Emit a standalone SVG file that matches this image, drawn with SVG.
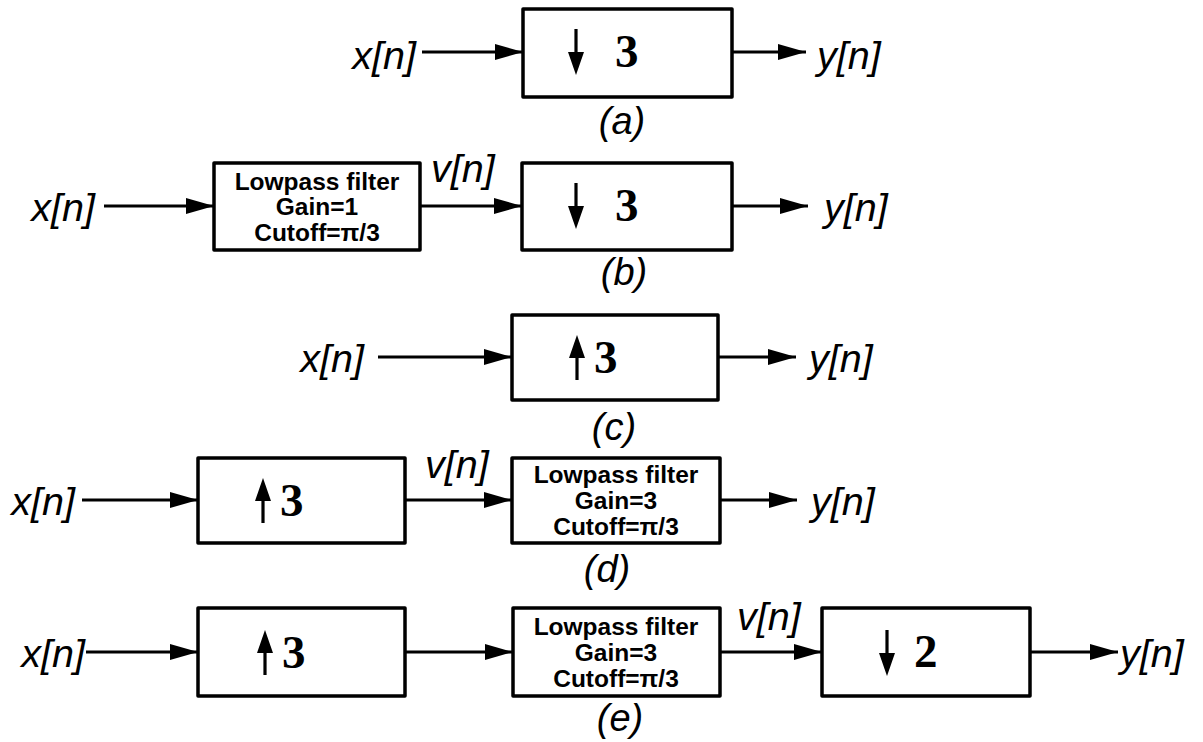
<svg xmlns="http://www.w3.org/2000/svg" width="1203" height="742" viewBox="0 0 1203 742">
<style>
.box{fill:#fff;stroke:#000;stroke-width:3.5;stroke-linejoin:round}
.sig{font-family:"Liberation Sans",Arial,sans-serif;font-style:italic;font-size:39.5px;fill:#000}
.end{text-anchor:end}
.cap{font-family:"Liberation Sans",Arial,sans-serif;font-style:italic;font-size:38px;fill:#000;text-anchor:middle}
.lpf{font-family:"Liberation Sans",Arial,sans-serif;font-weight:bold;font-size:24.5px;fill:#000;text-anchor:middle}
.num{font-family:"Liberation Serif","Times New Roman",serif;font-weight:bold;font-size:47px;fill:#000}
.wire{stroke:#000;stroke-width:3;fill:none}
.ia{stroke:#000;stroke-width:3.2;fill:none}
</style>
<defs>
<marker id="ah" markerUnits="userSpaceOnUse" markerWidth="30" markerHeight="20" refX="28" refY="10" orient="auto">
<path d="M0,2 L28,10 L0,18 Z" fill="#000"/>
</marker>
</defs>
<g id="connectors">
<line class="wire" x1="422" y1="52" x2="523" y2="52" marker-end="url(#ah)"/>
<line class="wire" x1="732" y1="52" x2="806" y2="52" marker-end="url(#ah)"/>
<line class="wire" x1="104" y1="206" x2="214" y2="206" marker-end="url(#ah)"/>
<line class="wire" x1="420" y1="206" x2="522" y2="206" marker-end="url(#ah)"/>
<line class="wire" x1="732" y1="206" x2="808" y2="206" marker-end="url(#ah)"/>
<line class="wire" x1="378" y1="357" x2="512" y2="357" marker-end="url(#ah)"/>
<line class="wire" x1="718" y1="357" x2="796" y2="357" marker-end="url(#ah)"/>
<line class="wire" x1="82" y1="500" x2="198" y2="500" marker-end="url(#ah)"/>
<line class="wire" x1="405" y1="500" x2="512" y2="500" marker-end="url(#ah)"/>
<line class="wire" x1="720" y1="500" x2="797" y2="500" marker-end="url(#ah)"/>
<line class="wire" x1="86" y1="652" x2="198" y2="652" marker-end="url(#ah)"/>
<line class="wire" x1="405" y1="652" x2="513" y2="652" marker-end="url(#ah)"/>
<line class="wire" x1="720" y1="652" x2="822" y2="652" marker-end="url(#ah)"/>
<line class="wire" x1="1030" y1="652" x2="1118" y2="652" marker-end="url(#ah)"/>
</g>
<g id="a-labels">
<text class="sig end" x="416" y="69">x[n]</text>
<text class="sig" x="817" y="69">y[n]</text>
<text class="cap" x="622" y="134">(a)</text>
</g>
<g id="a-down3">
<rect class="box" x="523" y="9" width="209" height="88"/>
<line class="ia" x1="576" y1="29" x2="576" y2="56"/>
<path d="M568,52 L584,52 L576,75 Z" fill="#000"/>
<text class="num" x="615" y="67">3</text>
</g>
<g id="b-labels">
<text class="sig end" x="95" y="221">x[n]</text>
<text class="sig" x="431" y="182">v[n]</text>
<text class="sig" x="824" y="221">y[n]</text>
<text class="cap" x="624" y="285">(b)</text>
</g>
<g id="b-lpf">
<rect class="box" x="214" y="163" width="206" height="87"/>
<text class="lpf" x="317" y="190">Lowpass filter</text>
<text class="lpf" x="317" y="215">Gain=1</text>
<text class="lpf" x="317" y="241">Cutoff=π/3</text>
</g>
<g id="b-down3">
<rect class="box" x="522" y="163" width="210" height="87"/>
<line class="ia" x1="576" y1="183" x2="576" y2="210"/>
<path d="M568,206 L584,206 L576,229 Z" fill="#000"/>
<text class="num" x="615" y="221">3</text>
</g>
<g id="c-labels">
<text class="sig end" x="364" y="372">x[n]</text>
<text class="sig" x="809" y="372">y[n]</text>
<text class="cap" x="614" y="440">(c)</text>
</g>
<g id="c-up3">
<rect class="box" x="512" y="315" width="206" height="85"/>
<line class="ia" x1="577" y1="354" x2="577" y2="380"/>
<path d="M569,358 L585,358 L577,335 Z" fill="#000"/>
<text class="num" x="594" y="373">3</text>
</g>
<g id="d-labels">
<text class="sig end" x="75" y="515">x[n]</text>
<text class="sig" x="425" y="478">v[n]</text>
<text class="sig" x="811" y="515">y[n]</text>
<text class="cap" x="607" y="582">(d)</text>
</g>
<g id="d-up3">
<rect class="box" x="198" y="458" width="207" height="85"/>
<line class="ia" x1="263" y1="497" x2="263" y2="523"/>
<path d="M255,501 L271,501 L263,478 Z" fill="#000"/>
<text class="num" x="280" y="516">3</text>
</g>
<g id="d-lpf">
<rect class="box" x="512" y="458" width="208" height="85"/>
<text class="lpf" x="616" y="483">Lowpass filter</text>
<text class="lpf" x="616" y="509">Gain=3</text>
<text class="lpf" x="616" y="535">Cutoff=π/3</text>
</g>
<g id="e-labels">
<text class="sig end" x="85" y="667">x[n]</text>
<text class="sig" x="737" y="630">v[n]</text>
<text class="sig" x="1120" y="667">y[n]</text>
<text class="cap" x="620" y="731">(e)</text>
</g>
<g id="e-up3">
<rect class="box" x="198" y="608" width="207" height="88"/>
<line class="ia" x1="265" y1="649" x2="265" y2="675"/>
<path d="M257,653 L273,653 L265,630 Z" fill="#000"/>
<text class="num" x="282" y="668">3</text>
</g>
<g id="e-lpf">
<rect class="box" x="513" y="608" width="207" height="88"/>
<text class="lpf" x="616" y="635">Lowpass filter</text>
<text class="lpf" x="616" y="661">Gain=3</text>
<text class="lpf" x="616" y="687">Cutoff=π/3</text>
</g>
<g id="e-down2">
<rect class="box" x="822" y="608" width="208" height="88"/>
<line class="ia" x1="887" y1="630" x2="887" y2="657"/>
<path d="M879,653 L895,653 L887,676 Z" fill="#000"/>
<text class="num" x="914" y="667">2</text>
</g>
</svg>
